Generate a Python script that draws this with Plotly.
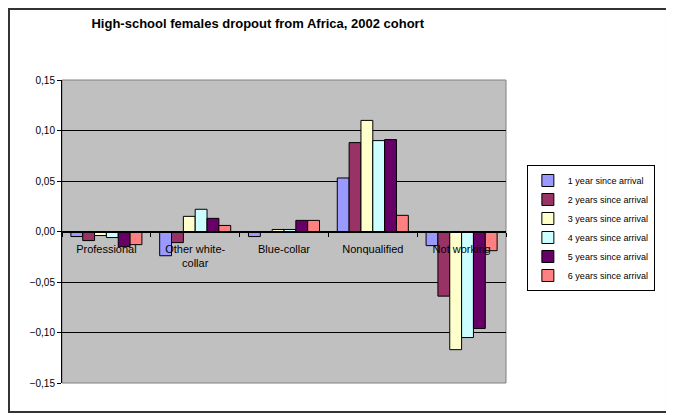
import plotly.graph_objects as go

# categories on the x axis (label shown under the zero line)
categories = ['Professional', 'Other white-collar', 'Blue-collar', 'Nonqualified', 'Not working']
category_labels = ['Professional', 'Other white-<br>collar', 'Blue-collar', 'Nonqualified', 'Not working']

series_names = [
    '1 year since arrival',
    '2 years since arrival',
    '3 years since arrival',
    '4 years since arrival',
    '5 years since arrival',
    '6 years since arrival',
]

# values, one list per series
year1 = [-0.005, -0.024, -0.005, 0.053, -0.014]
year2 = [-0.009, -0.011, -0.001, 0.088, -0.064]
year3 = [-0.004, 0.015, 0.002, 0.110, -0.117]
year4 = [-0.006, 0.022, 0.002, 0.090, -0.105]
year5 = [-0.015, 0.013, 0.011, 0.091, -0.096]
year6 = [-0.013, 0.006, 0.011, 0.016, -0.019]

series_values = [year1, year2, year3, year4, year5, year6]
colors = ['#9999FF', '#993366', '#FFFFCC', '#CCFFFF', '#660066', '#FF8080']

yticks = [-0.15, -0.10, -0.05, 0.0, 0.05, 0.10, 0.15]

fig = go.Figure()
for name, vals, col in zip(series_names, series_values, colors):
    fig.add_trace(go.Bar(
        x=categories, y=vals, name=name,
        marker=dict(color=col, line=dict(color='black', width=1)),
    ))

# plot area border (grey) and outer chart border (dark)
fig.add_shape(type='rect', xref='paper', yref='paper', x0=0, x1=1, y0=0, y1=1,
              line=dict(color='#808080', width=1), layer='below')
fig.add_shape(type='rect', xref='paper', yref='paper', x0=-0.1194, x1=1.3626, y0=-0.0957, y1=1.2343,
              line=dict(color='#333333', width=2))

# page body adds 8px margin, so the figure is 8px smaller than the window
fig.update_layout(
    width=666, height=407,
    margin=dict(l=54, r=168, t=72, b=32),
    paper_bgcolor='white',
    plot_bgcolor='#C0C0C0',
    separators=',.',
    barmode='group',
    bargap=0.2,
    bargroupgap=0,
    font=dict(family='Arial, Liberation Sans, sans-serif', size=9, color='black'),
    title=dict(text='<b>High-school females dropout from Africa, 2002 cohort</b>',
               x=0.375, xref='container', xanchor='center',
               y=0.961, yref='container', yanchor='middle',
               font=dict(size=13)),
    legend=dict(x=1.047, y=0.7195, xanchor='left', yanchor='top',
                bordercolor='black', borderwidth=1, bgcolor='white',
                font=dict(size=9), tracegroupgap=0),
    xaxis=dict(
        tickvals=categories, ticktext=category_labels,
        anchor='free', position=0.5,
        showline=True, linecolor='black', linewidth=1,
        ticks='outside', tickson='boundaries', ticklen=4, tickcolor='black',
        ticklabelstandoff=7,
        showgrid=False, tickfont=dict(size=11),
    ),
    yaxis=dict(
        range=[-0.15, 0.15], tickvals=yticks, tickformat='.2f',
        showline=True, linecolor='black', linewidth=1,
        ticks='outside', ticklen=4, tickcolor='black',
        showgrid=True, gridcolor='black', gridwidth=1,
        zeroline=False, tickfont=dict(size=10),
    ),
)

fig.write_html('out.html')
